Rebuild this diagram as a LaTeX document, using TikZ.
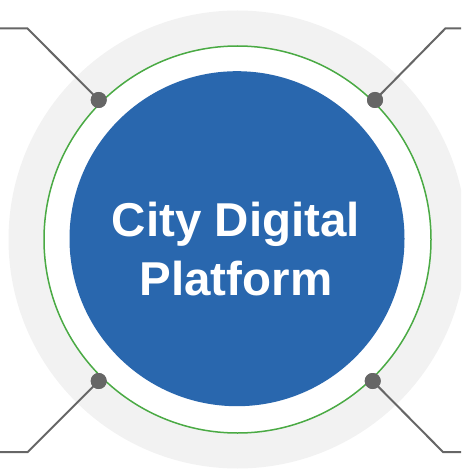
\documentclass[tikz,border=0pt]{standalone}
\usepackage{fontspec}
\setmainfont{Liberation Sans}
\definecolor{ringgray}{HTML}{F2F2F2}
\definecolor{rimgreen}{HTML}{4AAA44}
\definecolor{coreblue}{HTML}{2967AE}
\definecolor{linkgray}{HTML}{666666}
\begin{document}
\begin{tikzpicture}[x=1pt,y=-1pt,
  ring/.style={circle,fill=ringgray,minimum size=458pt,inner sep=0pt},
  rim/.style={circle,fill=white,draw=rimgreen,line width=1.5pt,minimum size=387pt,inner sep=0pt},
  core/.style={circle,fill=coreblue,minimum size=335pt,inner sep=0pt},
  label/.style={text=white,font=\bfseries\fontsize{47.5}{59}\selectfont,align=center,inner sep=0pt},
  pin/.style={circle,fill=linkgray,minimum size=16pt,inner sep=0pt},
  link/.style={draw=linkgray,line width=2pt}]
\useasboundingbox (0,0) rectangle (461,470);
\clip (0,0) rectangle (461,470);
\node[ring] (ring) at (237.5,239.5) {};
\node[rim] (rim) at (237.5,239.5) {};
\node[core] (core) at (237,238.7) {};
\node[label] (title) at (236,249.5) {City Digital\\Platform};
\coordinate (tlend) at (0,28.3);
\coordinate (tlbend) at (27.3,28.3);
\coordinate (trend) at (461,28.3);
\coordinate (trbend) at (445.5,28.3);
\coordinate (blend) at (0,452);
\coordinate (blbend) at (27.7,452);
\coordinate (brend) at (461,452);
\coordinate (brbend) at (443,452);
\node[pin] (tl) at (98.7,100) {};
\node[pin] (tr) at (375,100) {};
\node[pin] (bl) at (98.7,381) {};
\node[pin] (br) at (372.7,381) {};
\draw[link] (tl.center) -- (tlbend) -- (tlend);
\draw[link] (tr.center) -- (trbend) -- (trend);
\draw[link] (bl.center) -- (blbend) -- (blend);
\draw[link] (br.center) -- (brbend) -- (brend);
\node[pin] at (tl) {};
\node[pin] at (tr) {};
\node[pin] at (bl) {};
\node[pin] at (br) {};
\end{tikzpicture}
\end{document}
